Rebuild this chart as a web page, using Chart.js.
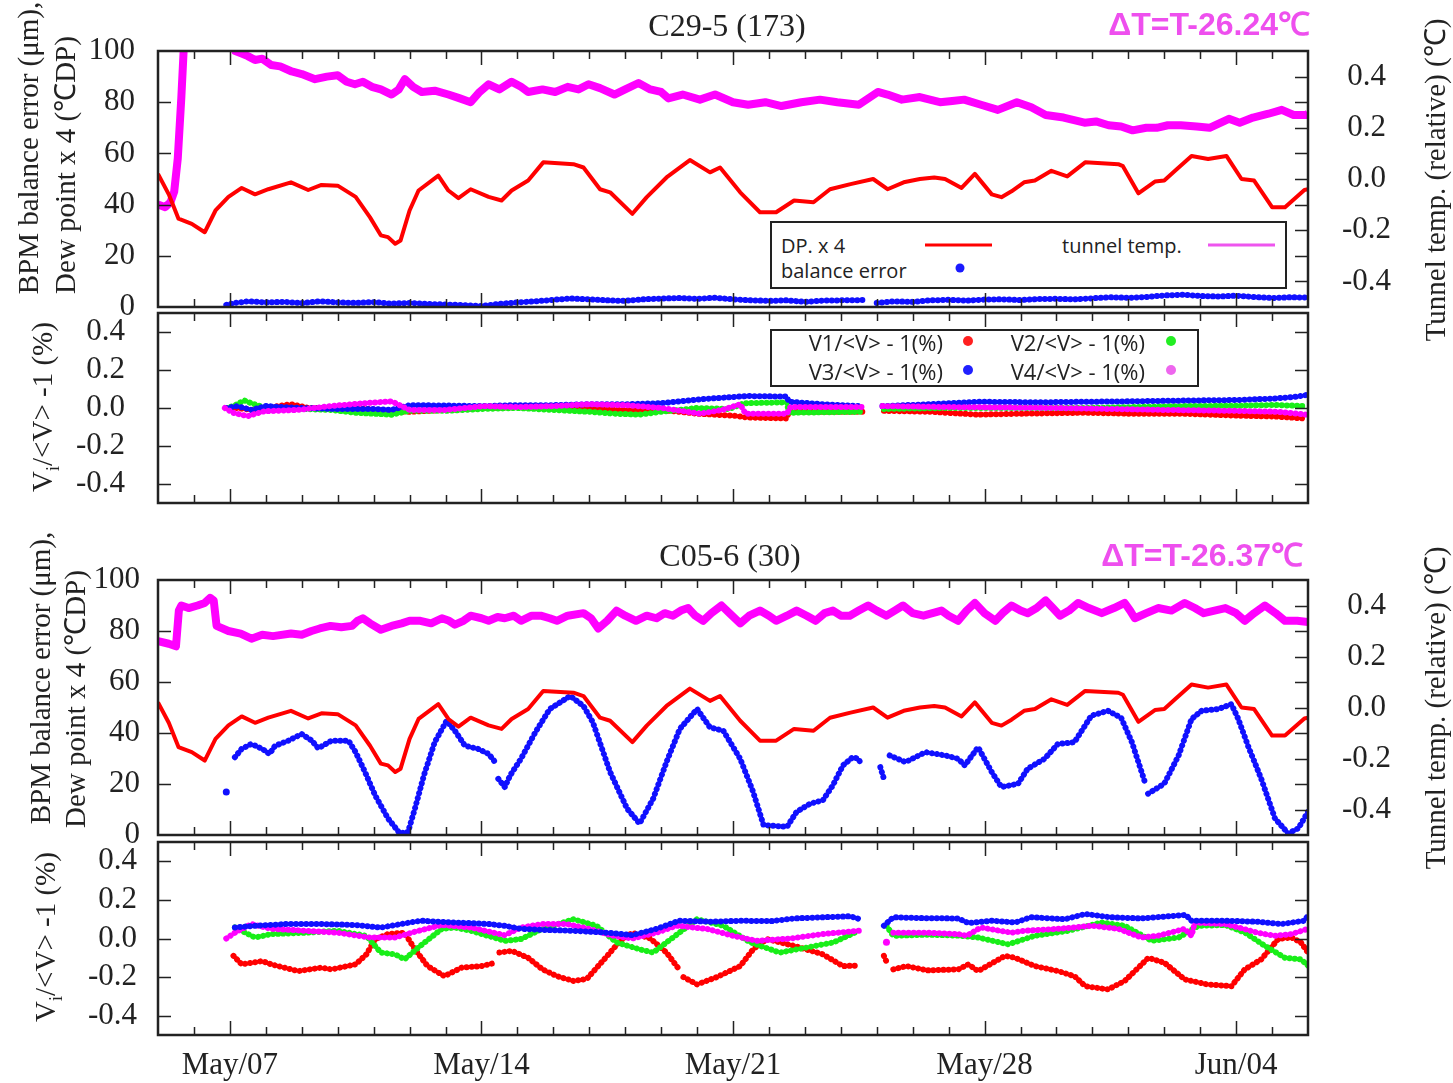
<!DOCTYPE html>
<html>
<head>
<meta charset="utf-8">
<script src="https://cdn.jsdelivr.net/npm/chart.js@4.4.0/dist/chart.umd.min.js"></script>
<style>
  html, body { margin: 0; padding: 0; background: #fff; }
  #page { position: relative; width: 1453px; height: 1083px; overflow: hidden; font-family: "Liberation Serif", serif; color: #222; }
  canvas { position: absolute; left: 0; }
  .vt { position: absolute; white-space: nowrap; transform: translate(-50%, -50%) rotate(-90deg); font-size: 29px; }
  .title { position: absolute; transform: translate(-50%, -50%); font-size: 32px; white-space: nowrap; }
  .dt { position: absolute; transform: translate(-100%, -50%); font: bold 32px "Liberation Sans", sans-serif; color: #ee4fee; white-space: nowrap; }
  .box { position: absolute; border: 2px solid #222; background: #fff; box-sizing: border-box; }
  .lt { position: absolute; transform: translateY(-50%); font-family: "Open Sans", sans-serif; white-space: nowrap; color: #222; }
  .lr { position: absolute; transform: translate(-100%, -50%); font-family: "Open Sans", sans-serif; white-space: nowrap; color: #222; font-size: 22px; }
  .sw { position: absolute; height: 3px; transform: translateY(-50%); }
  .dot { position: absolute; width: 10px; height: 10px; border-radius: 50%; transform: translate(-50%, -50%); }
</style>
</head>
<body>
<div id="page">
  <canvas id="c1" width="1453" height="330" style="top:0px"></canvas>
  <canvas id="c2" width="1453" height="240" style="top:290px"></canvas>
  <canvas id="c3" width="1453" height="340" style="top:520px"></canvas>
  <canvas id="c4" width="1453" height="263" style="top:820px"></canvas>

  <div class="title" style="left:727px; top:25px">C29-5 (173)</div>
  <div class="dt" style="left:1310px; top:22px">ΔT=T-26.24℃</div>
  <div class="title" style="left:730px; top:555px">C05-6 (30)</div>
  <div class="dt" style="left:1303px; top:553px">ΔT=T-26.37℃</div>

  <div class="vt" style="left:28px; top:148px">BPM balance error (μm),</div>
  <div class="vt" style="left:63px; top:165px">Dew point x 4 (℃DP)</div>
  <div class="vt" style="left:45px; top:407px">V<sub style="font-size:18px">i</sub>/&lt;V&gt; -1 (%)</div>
  <div class="vt" style="left:40px; top:678px">BPM balance error (μm),</div>
  <div class="vt" style="left:73px; top:699px">Dew point x 4 (℃DP)</div>
  <div class="vt" style="left:48px; top:937px">V<sub style="font-size:18px">i</sub>/&lt;V&gt; -1 (%)</div>
  <div class="vt" style="left:1433px; top:180px">Tunnel temp. (relative) (℃)</div>
  <div class="vt" style="left:1433px; top:708px">Tunnel temp. (relative) (℃)</div>

  <div class="box" style="left:770px; top:221px; width:517px; height:68px"></div>
  <div class="lt" style="left:781px; top:245px; font-size:20px">DP. x 4</div>
  <div class="sw" style="left:925px; top:245px; width:67px; background:#ff0000"></div>
  <div class="lt" style="left:1062px; top:245px; font-size:20px">tunnel temp.</div>
  <div class="sw" style="left:1208px; top:245px; width:67px; background:#ee55ee"></div>
  <div class="lt" style="left:781px; top:270px; font-size:20px">balance error</div>
  <div class="dot" style="left:960px; top:268px; width:9px; height:9px; background:#1a1aff"></div>

  <div class="box" style="left:770px; top:329px; width:429px; height:58px"></div>
  <div class="lr" style="left:943px; top:342px">V1/&lt;V&gt; - 1(%)</div>
  <div class="dot" style="left:968px; top:341px; background:#ff2020"></div>
  <div class="lr" style="left:1145px; top:342px">V2/&lt;V&gt; - 1(%)</div>
  <div class="dot" style="left:1171px; top:341px; background:#22ee22"></div>
  <div class="lr" style="left:943px; top:371px">V3/&lt;V&gt; - 1(%)</div>
  <div class="dot" style="left:968px; top:370px; background:#2020ff"></div>
  <div class="lr" style="left:1145px; top:371px">V4/&lt;V&gt; - 1(%)</div>
  <div class="dot" style="left:1171px; top:370px; background:#ee66ee"></div>
</div>

<script>
// x values are days counted from May 1 (May/07 = 7, Jun/04 = 35)
const X_MIN = 5, X_MAX = 37;
const xTickDays = [7, 14, 21, 28, 35];
const xTickLabels = ['May/07', 'May/14', 'May/21', 'May/28', 'Jun/04'];

// dew point x 4 (same sensor on both cells)
const dewPoint = [[5.0,52],[5.3,44],[5.57,34.5],[5.94,32.5],[6.3,29.2],[6.6,37.7],[6.96,43],[7.33,46.5],[7.7,44],[8.07,46],[8.7,48.7],[9.18,45.7],[9.55,47.7],[10.0,47.4],[10.5,43],[10.9,35],[11.2,28],[11.4,27.3],[11.6,24.7],[11.75,26],[12.0,37.7],[12.25,45.5],[12.8,51.3],[13.08,45.5],[13.36,42.5],[13.7,46],[14.2,43],[14.56,41.6],[14.84,45.5],[15.3,49.4],[15.72,56.5],[16.56,55.8],[16.84,54.5],[17.3,46],[17.58,44.8],[18.2,36.4],[18.6,42.9],[19.15,50.6],[19.8,57.4],[20.36,52.6],[20.64,54.5],[21.2,44.8],[21.75,37],[22.2,37],[22.7,41.6],[23.24,40.9],[23.7,46],[24.27,48],[24.9,50],[25.3,46],[25.75,48.7],[26.2,50],[26.6,50.6],[26.9,50],[27.36,46.5],[27.73,52],[28.2,44],[28.47,42.9],[28.75,45.2],[29.1,48.7],[29.4,49.4],[29.86,53.2],[30.3,51],[30.8,56.5],[31.72,55.8],[31.85,55],[32.28,44.4],[32.74,49],[33.0,49.4],[33.3,53.2],[33.76,59],[34.22,57.8],[34.73,59],[35.15,50],[35.5,49.4],[36.0,39],[36.36,39],[36.9,45.7],[37.0,46]];

// C29-5 (173)
const tunnelA = [[5.0,-0.10],[5.2,-0.11],[5.35,-0.09],[5.45,-0.05],[5.55,0.08],[5.65,0.32],[5.72,0.52],[5.8,0.7],[7.0,0.7],[7.15,0.5],[7.33,0.49],[7.5,0.48],[7.7,0.465],[7.9,0.47],[8.15,0.445],[8.4,0.44],[8.72,0.42],[9.0,0.41],[9.37,0.39],[9.7,0.40],[10.0,0.405],[10.25,0.38],[10.48,0.37],[10.7,0.38],[10.95,0.36],[11.2,0.35],[11.5,0.33],[11.7,0.35],[11.87,0.39],[12.1,0.36],[12.34,0.34],[12.7,0.345],[13.08,0.33],[13.4,0.315],[13.7,0.30],[13.95,0.34],[14.2,0.37],[14.5,0.35],[14.84,0.38],[15.1,0.36],[15.3,0.34],[15.7,0.35],[16.05,0.34],[16.4,0.36],[16.7,0.35],[16.98,0.37],[17.3,0.355],[17.7,0.33],[18.0,0.35],[18.37,0.375],[18.7,0.35],[19.0,0.34],[19.2,0.315],[19.6,0.33],[20.08,0.31],[20.5,0.33],[21.0,0.30],[21.42,0.29],[21.9,0.30],[22.35,0.285],[22.9,0.30],[23.42,0.31],[23.9,0.30],[24.5,0.29],[25.03,0.34],[25.3,0.33],[25.7,0.31],[26.2,0.32],[26.76,0.30],[27.1,0.305],[27.43,0.31],[27.9,0.29],[28.37,0.27],[28.9,0.30],[29.3,0.28],[29.7,0.25],[30.2,0.24],[30.78,0.22],[31.1,0.225],[31.45,0.21],[31.8,0.205],[32.12,0.19],[32.5,0.20],[32.79,0.20],[33.1,0.21],[33.46,0.21],[33.9,0.205],[34.26,0.20],[34.8,0.235],[35.1,0.22],[35.47,0.24],[35.9,0.255],[36.27,0.27],[36.6,0.25],[36.94,0.25],[37.0,0.255]];
const balanceA = [[6.9,0.8],[7.1,1.5],[7.5,2.2],[8.0,1.8],[8.5,2.0],[9.0,1.5],[9.5,2.2],[10.0,1.8],[10.5,1.6],[11.0,1.9],[11.5,1.3],[12.0,1.6],[12.5,1.2],[13.0,1.0],[13.5,0.7],[14.0,0.4],[14.5,1.2],[15.0,1.8],[15.5,2.2],[16.0,2.8],[16.5,3.3],[17.0,3.0],[17.5,2.6],[18.0,2.4],[18.5,3.0],[19.0,3.3],[19.5,3.5],[20.0,3.2],[20.5,3.6],[21.0,3.0],[21.5,2.6],[22.0,2.4],[22.5,2.6],[23.0,2.0],[23.5,2.5],[24.0,2.6],[24.6,2.7],[24.8,null],[25.0,1.6],[25.5,2.2],[26.0,2.0],[26.5,2.6],[27.0,2.8],[27.5,2.5],[28.0,2.9],[28.5,3.0],[29.0,2.7],[29.5,3.1],[30.0,3.2],[30.5,3.0],[31.0,3.4],[31.5,3.8],[32.0,3.6],[32.5,3.9],[33.0,4.5],[33.5,4.8],[34.0,4.3],[34.5,4.1],[35.0,4.4],[35.5,3.9],[36.0,3.5],[36.5,3.8],[37.0,3.7]];
const v1A = [[6.9,0.0],[7.2,0.0],[7.6,-0.01],[8.0,0.0],[8.7,0.02],[9.2,0.0],[10.0,0.0],[10.8,-0.005],[11.5,-0.015],[12.0,-0.02],[13.0,-0.01],[14.0,0.0],[15.0,0.005],[16.0,0.0],[17.0,-0.005],[18.0,-0.01],[19.0,-0.01],[20.0,-0.03],[21.0,-0.04],[21.4,-0.05],[22.5,-0.055],[22.55,-0.02],[23.5,-0.02],[24.6,-0.02],[24.8,null],[25.2,-0.015],[26.5,-0.02],[27.84,-0.035],[29.0,-0.03],[30.8,-0.025],[32.0,-0.03],[33.5,-0.03],[35.0,-0.04],[36.1,-0.045],[36.9,-0.055]];
const v2A = [[6.9,0.0],[7.1,0.01],[7.4,0.04],[7.6,0.025],[8.0,0.0],[9.0,-0.005],[9.8,-0.01],[10.5,-0.025],[11.5,-0.035],[12.0,-0.015],[13.0,-0.015],[14.0,-0.005],[15.0,0.0],[16.0,-0.01],[17.0,-0.02],[17.7,-0.03],[18.4,-0.035],[19.0,-0.02],[20.0,0.0],[20.9,-0.005],[21.3,0.025],[22.5,0.03],[22.55,-0.025],[24.6,-0.02],[24.8,null],[25.2,-0.005],[27.0,0.0],[29.0,0.0],[30.8,0.0],[33.5,0.01],[35.0,0.012],[36.1,0.016],[36.9,0.01]];
const v3A = [[6.9,0.0],[7.2,0.01],[7.6,-0.01],[8.0,0.01],[9.0,0.0],[10.0,-0.005],[11.0,-0.005],[11.5,-0.01],[12.0,0.015],[13.0,0.013],[14.0,0.01],[15.0,0.015],[16.0,0.015],[17.0,0.02],[18.0,0.02],[19.0,0.025],[20.08,0.046],[21.4,0.063],[22.5,0.06],[22.55,0.033],[23.5,0.02],[24.6,0.01],[24.8,null],[25.16,0.01],[26.5,0.02],[27.84,0.033],[29.5,0.03],[30.8,0.033],[32.0,0.035],[33.5,0.039],[35.0,0.042],[36.1,0.05],[36.7,0.06],[36.94,0.068]];
const v4A = [[6.86,0.0],[7.1,-0.026],[7.5,-0.043],[7.96,-0.017],[8.9,-0.01],[9.8,0.01],[10.8,0.026],[11.5,0.035],[12.0,-0.01],[13.0,-0.01],[14.05,0.01],[15.0,0.005],[16.0,0.01],[17.0,0.02],[18.0,0.015],[19.0,0.0],[20.08,-0.03],[20.7,-0.01],[21.2,0.02],[21.35,-0.03],[22.5,-0.03],[22.6,0.005],[24.6,0.005],[24.8,null],[25.16,0.01],[27.0,0.005],[30.0,0.0],[33.0,-0.01],[35.0,-0.015],[36.2,-0.02],[36.94,-0.035]];

// C05-6 (30)
const tunnelB = [[5.0,0.26],[5.3,0.25],[5.5,0.24],[5.58,0.38],[5.65,0.40],[5.85,0.39],[6.1,0.40],[6.3,0.41],[6.45,0.43],[6.55,0.42],[6.63,0.32],[6.96,0.30],[7.3,0.29],[7.6,0.27],[7.9,0.285],[8.2,0.28],[8.7,0.29],[9.0,0.285],[9.27,0.30],[9.5,0.31],[9.8,0.32],[10.1,0.315],[10.4,0.32],[10.55,0.34],[10.7,0.35],[10.9,0.33],[11.2,0.305],[11.5,0.32],[11.78,0.33],[12.0,0.34],[12.3,0.34],[12.6,0.33],[12.9,0.35],[13.1,0.34],[13.26,0.325],[13.5,0.34],[13.7,0.36],[14.0,0.35],[14.2,0.34],[14.45,0.355],[14.65,0.35],[14.9,0.36],[15.1,0.34],[15.4,0.36],[15.65,0.36],[15.9,0.35],[16.1,0.34],[16.4,0.36],[16.84,0.37],[17.05,0.35],[17.25,0.31],[17.5,0.34],[17.76,0.38],[18.0,0.36],[18.3,0.34],[18.6,0.36],[18.87,0.35],[19.1,0.37],[19.33,0.36],[19.55,0.38],[19.75,0.39],[19.95,0.36],[20.17,0.34],[20.4,0.37],[20.68,0.40],[20.9,0.37],[21.2,0.33],[21.45,0.36],[21.75,0.38],[22.0,0.36],[22.2,0.34],[22.5,0.36],[22.77,0.38],[23.05,0.36],[23.3,0.34],[23.55,0.37],[23.78,0.38],[24.0,0.36],[24.25,0.36],[24.5,0.38],[24.76,0.40],[25.0,0.38],[25.27,0.36],[25.5,0.38],[25.73,0.40],[26.0,0.37],[26.3,0.36],[26.55,0.37],[26.8,0.38],[27.0,0.36],[27.26,0.34],[27.5,0.38],[27.73,0.41],[28.0,0.37],[28.3,0.34],[28.5,0.37],[28.75,0.40],[29.0,0.38],[29.2,0.37],[29.45,0.39],[29.7,0.42],[29.9,0.39],[30.1,0.36],[30.35,0.38],[30.6,0.41],[30.9,0.39],[31.26,0.37],[31.6,0.39],[31.9,0.41],[32.05,0.38],[32.18,0.35],[32.5,0.37],[32.83,0.39],[33.2,0.38],[33.57,0.41],[33.85,0.39],[34.1,0.37],[34.4,0.38],[34.7,0.39],[35.0,0.37],[35.24,0.34],[35.5,0.37],[35.8,0.40],[36.1,0.37],[36.36,0.34],[36.7,0.34],[37.0,0.335]];
const balanceB = [[6.9,16.9],[7.0,null],[7.14,30.5],[7.33,33.8],[7.6,35.7],[7.9,33.8],[8.1,31.8],[8.26,35],[8.63,37],[9.0,39.6],[9.28,37],[9.46,34],[9.83,37],[10.3,37],[10.5,32.5],[10.76,24.7],[11.04,15.6],[11.4,6.5],[11.73,0.6],[11.96,1.3],[12.15,10.4],[12.4,23.4],[12.7,36.4],[13.03,44.8],[13.26,40.9],[13.54,35],[13.9,33.8],[14.2,31.8],[14.38,28.6],[14.42,null],[14.47,22],[14.65,18.8],[14.8,23.4],[15.1,29.9],[15.5,40.3],[15.9,49.4],[16.47,54.5],[16.84,50.6],[17.1,44.2],[17.58,24.7],[18.05,10.4],[18.4,4.5],[18.78,14.3],[19.15,28.6],[19.52,41.6],[20.0,49.4],[20.36,42.2],[20.73,40.9],[21.2,29.9],[21.56,16.9],[21.85,3.9],[22.5,3.2],[22.77,9.1],[23.15,12.3],[23.5,13.6],[23.78,19.5],[24.06,27.3],[24.33,30.5],[24.5,29.9],[24.56,27.5],[24.8,null],[25.1,26.6],[25.2,22],[25.3,null],[25.36,31.2],[25.8,28.6],[26.36,32.5],[26.9,31.2],[27.26,29.9],[27.45,27.3],[27.82,34.4],[28.2,24.7],[28.47,18.8],[28.93,20.1],[29.2,26],[29.67,29.9],[30.04,35.7],[30.5,36.4],[30.97,46.8],[31.43,48.7],[31.8,46],[32.1,36.4],[32.46,20.8],[32.5,null],[32.55,16.2],[33.0,20.1],[33.4,31.2],[33.76,45.5],[34.04,48.7],[34.5,49.4],[34.87,51.3],[35.06,45.5],[35.33,35],[35.7,22],[36.08,6.5],[36.45,0.6],[36.73,2.6],[37.0,9.1]];
const v1B = [[7.1,-0.09],[7.33,-0.134],[7.9,-0.117],[8.15,-0.134],[8.9,-0.169],[9.55,-0.151],[9.83,-0.16],[10.5,-0.134],[10.8,-0.082],[11.04,-0.003],[11.4,0.023],[11.86,0.03],[12.15,-0.056],[12.5,-0.143],[12.97,-0.195],[13.45,-0.151],[14.0,-0.143],[14.4,-0.125],[14.45,null],[14.5,-0.073],[14.85,-0.064],[15.3,-0.1],[15.7,-0.16],[16.1,-0.195],[16.56,-0.22],[16.93,-0.21],[17.5,-0.09],[17.86,-0.012],[18.2,0.03],[18.7,0.0],[19.15,-0.073],[19.5,-0.16],[19.56,null],[19.62,-0.2],[20.0,-0.238],[20.55,-0.2],[21.2,-0.143],[21.56,-0.056],[21.94,-0.003],[22.7,-0.038],[23.5,-0.082],[24.06,-0.143],[24.5,-0.14],[24.8,null],[25.2,-0.09],[25.27,-0.12],[25.33,null],[25.46,-0.16],[25.83,-0.143],[26.4,-0.165],[27.27,-0.16],[27.55,-0.134],[27.82,-0.169],[28.57,-0.09],[28.85,-0.1],[29.4,-0.143],[30.05,-0.169],[30.5,-0.195],[30.8,-0.247],[31.44,-0.264],[31.9,-0.22],[32.56,-0.1],[33.0,-0.125],[33.57,-0.212],[34.2,-0.238],[34.87,-0.247],[35.24,-0.16],[35.7,-0.108],[36.17,-0.003],[36.54,0.005],[36.8,-0.02],[37.0,-0.073]];
const v2B = [[7.14,0.057],[7.7,0.005],[8.15,0.023],[9.1,0.03],[10.0,0.04],[10.8,0.014],[11.2,-0.073],[11.6,-0.082],[11.86,-0.108],[12.3,-0.038],[12.9,0.05],[13.26,0.057],[13.7,0.04],[14.65,-0.012],[15.1,-0.003],[15.7,0.05],[16.56,0.1],[17.2,0.066],[17.76,-0.02],[18.4,-0.056],[18.78,-0.073],[19.33,0.005],[20.0,0.1],[20.73,0.066],[21.48,-0.02],[22.3,-0.073],[23.05,-0.047],[23.8,-0.02],[24.5,0.04],[24.8,null],[25.27,0.066],[25.46,0.014],[26.4,0.02],[27.27,0.015],[27.82,0.005],[28.66,-0.03],[29.4,0.014],[30.33,0.04],[31.26,0.083],[31.9,0.066],[32.65,-0.012],[33.4,0.005],[33.95,0.066],[34.7,0.07],[35.25,0.03],[35.8,-0.038],[36.36,-0.1],[36.8,-0.108],[37.0,-0.14]];
const v3B = [[7.14,0.057],[7.7,0.066],[8.6,0.075],[9.55,0.075],[10.5,0.07],[11.2,0.057],[12.3,0.092],[13.26,0.083],[14.2,0.075],[14.65,0.066],[15.1,0.05],[15.7,0.045],[16.56,0.04],[17.5,0.03],[18.2,0.017],[18.87,0.05],[19.5,0.092],[20.45,0.087],[21.2,0.092],[22.1,0.09],[22.7,0.104],[23.5,0.11],[24.25,0.115],[24.6,0.097],[24.8,null],[25.2,0.066],[25.46,0.11],[26.4,0.105],[27.27,0.104],[27.55,0.08],[28.2,0.092],[28.85,0.083],[29.3,0.11],[30.24,0.1],[30.8,0.127],[31.5,0.11],[32.37,0.104],[33.6,0.122],[33.76,0.092],[34.7,0.092],[35.6,0.087],[36.27,0.075],[36.9,0.092],[37.0,0.118]];
const v4B = [[6.9,0.0],[7.14,0.03],[7.6,0.075],[8.15,0.05],[9.1,0.04],[10.0,0.03],[10.9,0.005],[11.6,0.005],[12.15,0.035],[12.9,0.07],[13.7,0.057],[14.65,0.017],[15.1,0.057],[15.7,0.075],[16.37,0.075],[17.0,0.05],[17.67,0.014],[18.2,0.0],[18.87,0.03],[19.43,0.066],[20.27,0.05],[21.0,0.014],[21.66,-0.012],[22.6,0.0],[23.5,0.023],[24.5,0.04],[24.8,null],[25.27,-0.02],[25.35,null],[25.46,0.03],[26.4,0.03],[27.27,0.023],[27.5,0.014],[27.9,0.057],[28.75,0.03],[29.1,0.04],[30.05,0.05],[31.0,0.066],[31.72,0.05],[32.37,0.005],[32.83,0.014],[33.57,0.05],[33.76,0.014],[33.85,0.083],[34.7,0.075],[35.6,0.03],[36.08,0.014],[36.54,0.023],[37.0,0.05]];

const RED = '#ff0000', GREEN = '#18ee18', BLUE = '#1010ff', MAGENTA = '#ff00ff';
const TICK_FONT = { family: 'Liberation Serif', size: 31 };

const pts = arr => arr.map(p => ({ x: p[0], y: p[1] }));

// single points between gaps still get a dot
function isolated(ctx) {
    const d = ctx.dataset.data, i = ctx.dataIndex;
    if (!d[i] || d[i].y === null) return 0;
    const prevGap = !d[i - 1] || d[i - 1].y === null;
    const nextGap = !d[i + 1] || d[i + 1].y === null;
    return prevGap && nextGap ? 3.5 : 0;
}

function line(data, color, width, axis) {
    return { data: pts(data), borderColor: color, backgroundColor: color, borderWidth: width,
        borderJoinStyle: 'round', pointRadius: 0, spanGaps: false, yAxisID: axis || 'y', clip: 0 };
}
function dots(data, color, width) {
    return { data: pts(data), borderColor: color, backgroundColor: color, borderWidth: width,
        borderDash: [0.1, 5], borderCapStyle: 'round', borderJoinStyle: 'round',
        pointRadius: isolated, pointBorderWidth: 0, pointBackgroundColor: color,
        spanGaps: false, yAxisID: 'y' };
}

const evenLabel = v => {
    const n = Math.round(v * 10);
    return (n % 2 === 0 && Math.abs(n) < 5) ? (n / 10).toFixed(1) : '';
};

// inward ticks and box frame, gnuplot style
const frameTicks = {
    id: 'frameTicks',
    afterDatasetsDraw(chart) {
        const { ctx, chartArea: a, scales } = chart;
        ctx.save();
        ctx.strokeStyle = '#222';
        ctx.lineWidth = 1.5;
        ctx.beginPath();
        for (let d = X_MIN + 1; d < X_MAX; d++) {
            const x = Math.round(scales.x.getPixelForValue(d)) + 0.5;
            const len = d % 7 === 0 ? 14 : 8;
            ctx.moveTo(x, a.top); ctx.lineTo(x, a.top + len);
            ctx.moveTo(x, a.bottom); ctx.lineTo(x, a.bottom - len);
        }
        scales.y.ticks.forEach(t => {
            if (t.label === '') return;
            const y = Math.round(scales.y.getPixelForValue(t.value)) + 0.5;
            if (y <= a.top + 2 || y >= a.bottom - 2) return;
            ctx.moveTo(a.left, y); ctx.lineTo(a.left + 13, y);
            if (!scales.y2) { ctx.moveTo(a.right, y); ctx.lineTo(a.right - 13, y); }
        });
        if (scales.y2) {
            scales.y2.ticks.forEach(t => {
                const y = Math.round(scales.y2.getPixelForValue(t.value)) + 0.5;
                if (y <= a.top + 2 || y >= a.bottom - 2) return;
                ctx.moveTo(a.right, y); ctx.lineTo(a.right - 13, y);
            });
        }
        ctx.stroke();
        ctx.lineWidth = 2.5;
        ctx.strokeRect(a.left, a.top, a.right - a.left, a.bottom - a.top);
        ctx.restore();
    }
};

function makePanel(id, cfg) {
    const scales = {
        x: {
            type: 'linear', min: X_MIN, max: X_MAX,
            grid: { display: false, drawTicks: false }, border: { display: false },
            ticks: {
                display: !!cfg.xLabels, stepSize: 1, autoSkip: false, maxRotation: 0,
                padding: 12, color: '#222', font: TICK_FONT,
                callback: v => { const i = xTickDays.indexOf(v); return i >= 0 ? xTickLabels[i] : ''; }
            },
            afterFit: s => { s.height = cfg.xHeight; }
        },
        y: {
            min: cfg.yMin, max: cfg.yMax,
            // tickLength (not padding) pushes labels off the frame without changing the plot height
            grid: { display: false, drawTicks: true, tickLength: cfg.yPad }, border: { display: false },
            ticks: { stepSize: cfg.yStep, padding: 0, autoSkip: false, color: '#222', font: TICK_FONT,
                callback: cfg.yLabel || (v => String(v)) },
            afterFit: s => { s.width = 158; }
        }
    };
    if (cfg.right) {
        scales.y2 = {
            position: 'right', min: -0.5, max: 0.5,
            grid: { display: false, drawTicks: true, tickLength: 34 }, border: { display: false },
            ticks: { stepSize: 0.1, padding: 0, autoSkip: false, crossAlign: 'center', color: '#222', font: TICK_FONT, callback: evenLabel },
            afterFit: s => { s.width = 145; }
        };
    }
    new Chart(document.getElementById(id), {
        type: 'line',
        data: { datasets: cfg.datasets },
        options: {
            responsive: false, animation: false, events: [],
            layout: { padding: { top: cfg.top, right: cfg.right ? 0 : 145, left: 0, bottom: 0 } },
            plugins: { legend: { display: false }, tooltip: { enabled: false } },
            scales
        },
        plugins: [frameTicks]
    });
}

makePanel('c1', {
    top: 51, xHeight: 23, yMin: 0, yMax: 100, yStep: 20, yPad: 23, right: true,
    datasets: [
        line(dewPoint, RED, 4),
        dots(balanceA, BLUE, 6),
        line(tunnelA, MAGENTA, 8, 'y2')
    ]
});
makePanel('c2', {
    top: 23, xHeight: 27, yMin: -0.5, yMax: 0.5, yStep: 0.1, yPad: 33, yLabel: evenLabel,
    datasets: [
        dots(v4A, MAGENTA, 6),
        dots(v3A, BLUE, 6),
        dots(v2A, GREEN, 6),
        dots(v1A, RED, 6)
    ]
});
makePanel('c3', {
    top: 60, xHeight: 25, yMin: 0, yMax: 100, yStep: 20, yPad: 18, right: true,
    datasets: [
        line(dewPoint, RED, 4),
        dots(balanceB, BLUE, 6),
        line(tunnelB, MAGENTA, 8, 'y2')
    ]
});
makePanel('c4', {
    top: 22, xHeight: 48, yMin: -0.5, yMax: 0.5, yStep: 0.1, yPad: 21, yLabel: evenLabel, xLabels: true,
    datasets: [
        dots(v3B, BLUE, 6),
        dots(v4B, MAGENTA, 6),
        dots(v2B, GREEN, 6),
        dots(v1B, RED, 6)
    ]
});
</script>
</body>
</html>
